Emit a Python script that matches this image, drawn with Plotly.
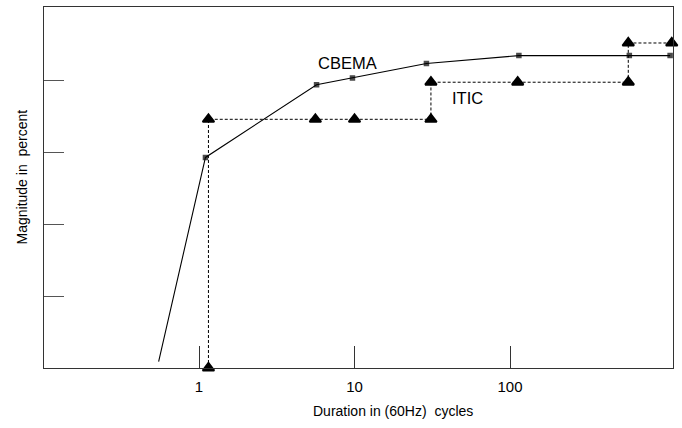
import plotly.graph_objects as go

# CBEMA undervoltage curve (duration in 60 Hz cycles, magnitude in percent)
cbema_cycles = [0.55, 1.1, 5.7, 9.7, 29, 114, 585, 1070]
cbema_pct = [1.8, 58.5, 78.7, 80.6, 84.6, 86.8, 86.8, 86.8]

# ITIC undervoltage curve
itic_cycles = [1.15, 1.15, 5.6, 10, 31, 31, 112, 576, 576, 1096]
itic_pct = [0, 69.1, 69.1, 69.1, 69.1, 79.4, 79.4, 79.4, 90.3, 90.3]

x_ticks = [1, 10, 100]
x_tick_text = ["1", "10", "100"]
y_ticks = [20, 40, 60, 80]

FONT = "Liberation Sans, Arial, sans-serif"

fig = go.Figure()

fig.add_trace(go.Scatter(
    x=cbema_cycles, y=cbema_pct, mode="lines+markers",
    line=dict(color="black", width=1.1),
    marker=dict(symbol="square", color="black",
                size=[0] + [4] * (len(cbema_cycles) - 1),
                line=dict(color="black", width=1.5)),
    cliponaxis=False, showlegend=False, hoverinfo="skip",
))

fig.add_trace(go.Scatter(
    x=itic_cycles, y=itic_pct, mode="lines",
    line=dict(color="black", width=1, dash="3px,2px"),
    cliponaxis=False, showlegend=False, hoverinfo="skip",
))

fig.add_trace(go.Scatter(
    x=itic_cycles, y=itic_pct, mode="markers",
    marker=dict(symbol="triangle-up", color="black", size=10,
                line=dict(color="black", width=2)),
    cliponaxis=False, showlegend=False, hoverinfo="skip",
))

fig.update_layout(
    width=682, height=428,
    margin=dict(l=44, r=9, t=7, b=60),
    paper_bgcolor="white", plot_bgcolor="white",
    font=dict(family=FONT, color="black"),
    xaxis=dict(
        type="log", range=[-0.9968, 3.048],
        tickvals=x_ticks, ticktext=x_tick_text,
        ticks="inside", ticklen=22, tickwidth=1, tickcolor="#333",
        tickfont=dict(size=15, family=FONT, color="black"),
        ticklabelstandoff=5,
        showgrid=False, zeroline=False,
        showline=True, linecolor="#333", linewidth=1, mirror=True,
    ),
    yaxis=dict(
        range=[0, 100.3], tickvals=y_ticks, showticklabels=False,
        ticks="inside", ticklen=20, tickwidth=1, tickcolor="#555",
        showgrid=False, zeroline=False,
        showline=True, linecolor="#333", linewidth=1, mirror=True,
    ),
    annotations=[
        dict(text="CBEMA", xref="paper", yref="paper",
             x=(347 - 44) / 629, y=(368 - 63) / 361,
             xanchor="center", yanchor="middle", showarrow=False,
             font=dict(size=16.5, family=FONT, color="black")),
        dict(text="ITIC", xref="paper", yref="paper",
             x=(467.5 - 44) / 629, y=(368 - 98.3) / 361,
             xanchor="center", yanchor="middle", showarrow=False,
             font=dict(size=16.5, family=FONT, color="black")),
        dict(text="Duration in (60Hz)\u00a0 cycles", xref="paper", yref="paper",
             x=(392.5 - 44) / 629, y=(368 - 411) / 361,
             xanchor="center", yanchor="middle", showarrow=False,
             font=dict(size=14, family=FONT, color="black")),
        dict(text="Magnitude in\u00a0 percent", xref="paper", yref="paper",
             x=(21 - 44) / 629, y=(368 - 177.5) / 361, textangle=-90,
             xanchor="center", yanchor="middle", showarrow=False,
             font=dict(size=14, family=FONT, color="black")),
    ],
)

fig.write_html("out.html")
